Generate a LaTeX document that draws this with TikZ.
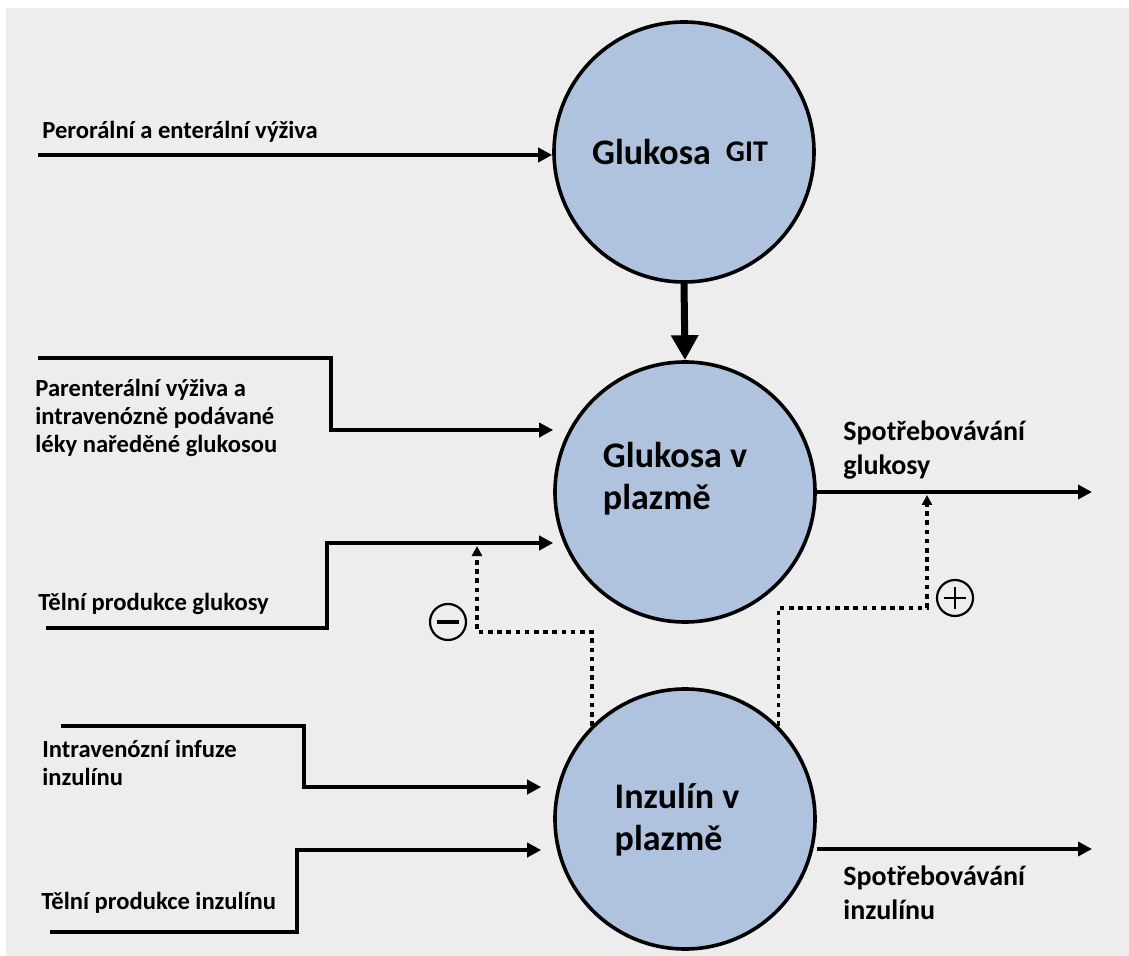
\documentclass[tikz,border=0pt]{standalone}
\usepackage{fontspec}
\setmainfont{Carlito}
\usetikzlibrary{arrows.meta}
\definecolor{bggray}{HTML}{EDEDED}
\definecolor{poolblue}{HTML}{B0C3DE}
\tikzset{
  pool/.style={circle,draw=black,line width=1.8pt,fill=poolblue,minimum size=130pt,inner sep=0pt},
  pooltext/.style={font=\bfseries\fontsize{18}{21}\selectfont,align=left,inner sep=0pt},
  lab/.style={font=\bfseries\fontsize{12.3}{14}\selectfont,align=left,anchor=west,inner sep=0pt},
  outlab/.style={font=\bfseries\fontsize{14}{17}\selectfont,align=left,anchor=west,inner sep=0pt},
  flow/.style={line width=1.8pt,-{Triangle[length=7pt,width=7pt]}},
  bigflow/.style={line width=3.5pt,-{Triangle[length=12.5pt,width=13pt]}},
  effect/.style={line width=1.7pt,dash pattern=on 2.3pt off 2.3pt,-{Triangle[length=5pt,width=5pt]}},
  sign/.style={circle,draw=black,line width=1.1pt,minimum size=18pt,inner sep=0pt}
}
\begin{document}
\begin{tikzpicture}[x=0.5pt,y=-0.5pt,line join=miter]
  \useasboundingbox (0,0) rectangle (1129,956);
  \fill[bggray] (6,8) rectangle (1129,956);
  \node[pool] (git) at (684,152) {};
  \node[pool] (gplasma) at (685,492) {};
  \node[pool] (iplasma) at (685,819) {};
  \node[pooltext] at (680,152) {Glukosa\hspace{7.5pt}\raisebox{1.5pt}{\fontsize{15}{18}\selectfont GIT}};
  \node[pooltext] at (675,479) {Glukosa v\\plazmě};
  \node[pooltext] at (677,820) {Inzulín v\\plazmě};
  \coordinate (perin) at (38,155);
  \coordinate (parin) at (38,358);
  \coordinate (gprodin) at (46,628);
  \coordinate (ivin) at (61,726);
  \coordinate (iprodin) at (50,932);
  \coordinate (gout) at (1092,492);
  \coordinate (iout) at (1092,849);
  \coordinate (inhib) at (477,546);
  \coordinate (stim) at (927,495);
  \draw[flow] (perin) -- (perin -| git.west);
  \draw[flow] (parin) -- ++(293,0) |- (gplasma.west |- 0,430);
  \draw[flow] (gprodin) -- ++(281,0) |- (gplasma.west |- 0,543);
  \draw[flow,shorten >=6pt] (ivin) -- ++(243,0) |- (iplasma.west |- 0,787);
  \draw[flow,shorten >=6pt] (iprodin) -- ++(247,0) |- (iplasma.west |- 0,850);
  \draw[bigflow] (git.south) -- (gplasma.north);
  \draw[flow] (gplasma.east) -- (gout);
  \draw[flow] (iplasma.east |- iout) -- (iout);
  \draw[effect] (iplasma.135) -- ++(0,-94) -| (inhib);
  \draw[effect] (iplasma.45) -- ++(0,-118) -| (stim);
  \node[sign] (minus) at (448,622) {};
  \draw[line width=1.6pt] ([xshift=-5.5pt]minus.center) -- ([xshift=5.5pt]minus.center);
  \node[sign] (plus) at (955,598) {};
  \draw[line width=1.1pt] ([xshift=-5.5pt]plus.center) -- ([xshift=5.5pt]plus.center)
    ([yshift=-5.5pt]plus.center) -- ([yshift=5.5pt]plus.center);
  \node[lab] (perlab) at (42,132) {Perorální a enterální výživa};
  \node[lab] (parlab) at (35,418) {Parenterální výživa a\\intravenózně podávané\\léky naředěné glukosou};
  \node[lab] (gprodlab) at (38,604) {Tělní produkce glukosy};
  \node[lab] (ivlab) at (42,763) {Intravenózní infuze\\inzulínu};
  \node[lab] (iprodlab) at (41,903) {Tělní produkce inzulínu};
  \node[outlab] (gcons) at (843,450) {Spotřebovávání\\glukosy};
  \node[outlab] (icons) at (843,893) {Spotřebovávání\\inzulínu};
\end{tikzpicture}
\end{document}
